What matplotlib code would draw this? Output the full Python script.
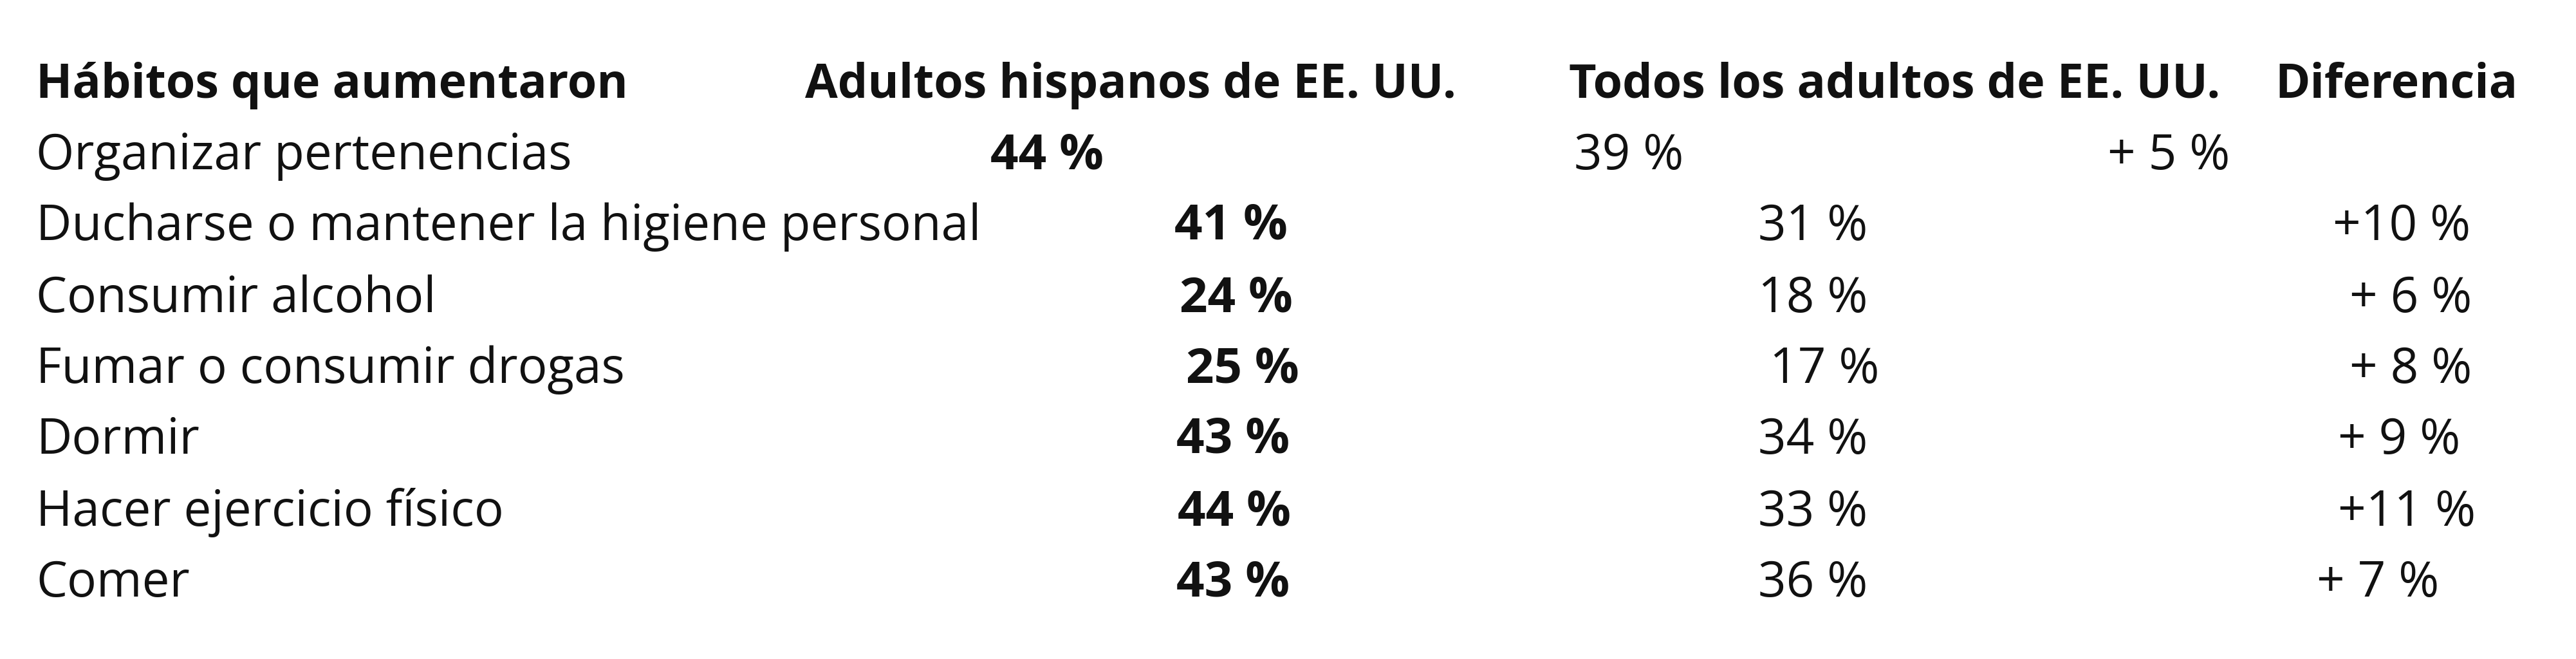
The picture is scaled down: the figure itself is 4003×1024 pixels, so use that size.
import matplotlib.pyplot as plt

headers = ["Hábitos que aumentaron", "Adultos hispanos de EE. UU.", "Todos los adultos de EE. UU.", "Diferencia"]
habits = ["Organizar pertenencias", "Ducharse o mantener la higiene personal", "Consumir alcohol",
          "Fumar o consumir drogas", "Dormir", "Hacer ejercicio físico", "Comer"]
hispanic = ["44 %", "41 %", "24 %", "25 %", "43 %", "44 %", "43 %"]
all_adults = ["39 %", "31 %", "18 %", "17 %", "34 %", "33 %", "36 %"]
diff = ["+ 5 %", "+10 %", "+ 6 %", "+ 8 %", "+ 9 %", "+11 %", "+ 7 %"]

W, H = 1568.0, 401.0
hdr_x = [22, 490, 955, 1385]
row_y = [95, 138, 182, 225, 268, 312, 355]
hisp_x = [603, 715, 718, 722, 716, 717, 716]
all_x = [958, 1070, 1070, 1077, 1070, 1070, 1070]
diff_x = [1283, 1420, 1430, 1430, 1423, 1423, 1410]

fig = plt.figure(figsize=(40.03, 10.24), dpi=100)
fig.patch.set_facecolor("white")
fs = 55
fam = ["Open Sans", "DejaVu Sans"]
col = "#111111"

def put(x, y, s, bold=False, size=fs):
    fig.text(x / W, 1 - y / H, s, ha="left", va="center", fontsize=size,
             fontweight="bold" if bold else "normal", family=fam, color=col)

for x, h in zip(hdr_x, headers):
    put(x, 52, h, bold=True, size=53)
for i in range(len(habits)):
    put(22, row_y[i], habits[i])
    put(hisp_x[i], row_y[i], hispanic[i], bold=True)
    put(all_x[i], row_y[i], all_adults[i])
    put(diff_x[i], row_y[i], diff[i])

fig.savefig("out.png", dpi=100, facecolor="white")
